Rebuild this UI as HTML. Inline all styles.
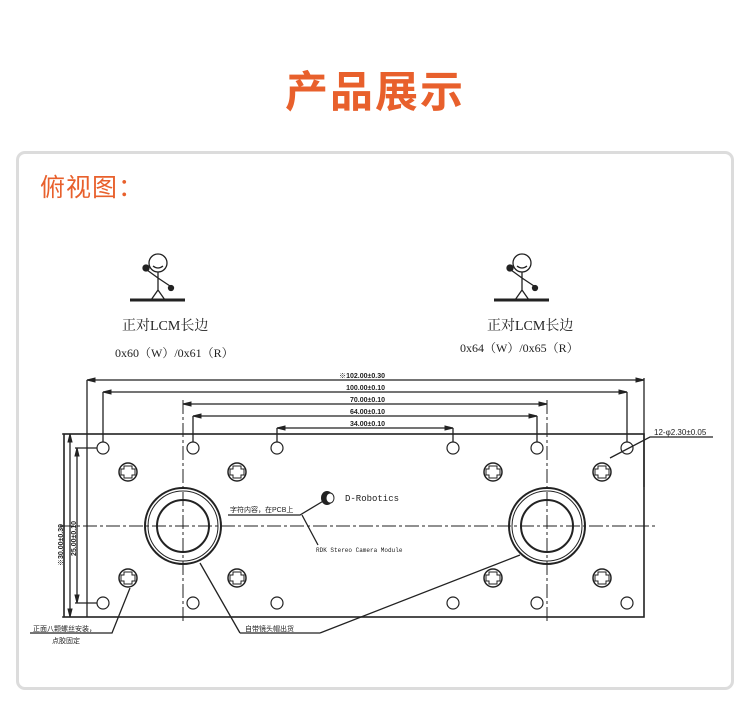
<!DOCTYPE html>
<html><head><meta charset="utf-8"><style>
body{margin:0;width:750px;height:708px;background:#fff;overflow:hidden;position:relative;font-family:"Liberation Sans","Noto Sans CJK SC",sans-serif}
.t{position:absolute;left:0;width:750px;top:58px;text-align:center;font-size:43px;font-weight:bold;color:#e8602c;letter-spacing:2px}
.box{position:absolute;left:16px;top:151px;width:712px;height:533px;border:3px solid #dcdcdc;border-radius:9px}
.s{position:absolute;left:40px;top:168px;font-size:25px;color:#e8602c;letter-spacing:1px}
svg{position:absolute;left:0;top:0}
</style></head><body>
<div class="t">产品展示</div>
<div class="box"></div>
<div class="s">俯视图：</div>
<svg width="750" height="708" font-family="Liberation Sans, Noto Sans CJK SC, sans-serif">
<g stroke="#222" fill="none" stroke-width="1.3">
<g id="fig">
<circle cx="158" cy="263" r="9"/><path d="M153 266 q5 4 10 0"/>
<path d="M158 272 L158 290 M158 290 L151 300 M158 290 L165 300 M158 278 L147 270 M158 278 L170 286"/>
<circle cx="146" cy="268" r="3" fill="#222"/><circle cx="171" cy="288" r="2.5" fill="#222"/>
<path d="M130 300 L185 300" stroke-width="3"/>
</g>
<use href="#fig" transform="translate(364,0)"/>
<rect x="64" y="434" width="580" height="183" stroke-width="1.6"/>
<path d="M87 380 H644 M87 380 V617 M644 378 V487"/>
<path d="M103 392 H627 M103 392 V442 M627 392 V442"/>
<path d="M183 404 H547"/>
<path d="M193 416 H537 M193 416 V442 M537 416 V442"/>
<path d="M277 428 H453 M277 428 V442 M453 428 V442"/>
<path d="M62 434 H64 M70 434 V617 M62 617 H64 M75 448 H97 M77 448 V603 M75 603 H97"/>
<path d="M60 526 H655 M183 400 V622 M547 400 V622" stroke-dasharray="14 3 3 3" stroke-width="1"/>
<g stroke-width="1.2">
<circle cx="103" cy="448" r="6"/><circle cx="193" cy="448" r="6"/><circle cx="277" cy="448" r="6"/><circle cx="453" cy="448" r="6"/><circle cx="537" cy="448" r="6"/><circle cx="627" cy="448" r="6"/>
<circle cx="103" cy="603" r="6"/><circle cx="193" cy="603" r="6"/><circle cx="277" cy="603" r="6"/><circle cx="453" cy="603" r="6"/><circle cx="537" cy="603" r="6"/><circle cx="627" cy="603" r="6"/>
</g>
<g stroke-width="1.5">
<g id="sc"><circle cx="128" cy="472" r="9"/><path d="M124 469 h-3 v6 h3 v3 h8 v-3 h3 v-6 h-3 v-3 h-8 z" stroke-width="1"/></g>
<use href="#sc" x="109"/><use href="#sc" x="365"/><use href="#sc" x="474"/>
<use href="#sc" y="106"/><use href="#sc" x="109" y="106"/><use href="#sc" x="365" y="106"/><use href="#sc" x="474" y="106"/>
</g>
<g stroke-width="2">
<circle cx="183" cy="526" r="38"/><circle cx="183" cy="526" r="35" stroke-width="1"/><circle cx="183" cy="526" r="26"/>
<circle cx="547" cy="526" r="38"/><circle cx="547" cy="526" r="35" stroke-width="1"/><circle cx="547" cy="526" r="26"/>
</g>
<path d="M228 515 H300 L325 500 M302 515 L318 545"/>
<path d="M240 633 H320 M240 633 L200 563 M320 633 L520 555"/>
<path d="M30 633 H112 L130 588"/>
<path d="M713 437 H650 L610 458"/>
</g>
<g stroke="#222" stroke-width="1" fill="#222">
<path d="M87 380 l8 -2 v4z M644 380 l-8 -2 v4z M103 392 l8 -2 v4z M627 392 l-8 -2 v4z M183 404 l8 -2 v4z M547 404 l-8 -2 v4z M193 416 l8 -2 v4z M537 416 l-8 -2 v4z M277 428 l8 -2 v4z M453 428 l-8 -2 v4z"/>
<path d="M70 434 l-2 8 h4z M70 617 l-2 -8 h4z M77 448 l-2 8 h4z M77 603 l-2 -8 h4z"/>
</g>
<ellipse cx="327" cy="498" rx="6" ry="7" fill="#222"/><ellipse cx="330" cy="498" rx="4" ry="5" fill="#fff" stroke="#222"/>
<g fill="#222" font-size="7" font-weight="bold" text-anchor="end">
<text x="385" y="378">※102.00±0.30</text><text x="385" y="390">100.00±0.10</text><text x="385" y="402">70.00±0.10</text><text x="385" y="414">64.00±0.10</text><text x="385" y="426">34.00±0.10</text>
</g>
<g fill="#222" font-size="7" font-weight="bold">
<text transform="translate(63,566) rotate(-90)">※30.00±0.30</text>
<text transform="translate(76,556) rotate(-90)">25.00±0.10</text>
</g>
<g fill="#222">
<text x="122" y="330" font-size="14" font-family="Liberation Serif, Noto Serif CJK SC, serif">正对LCM长边</text>
<text x="115" y="357" font-size="12" font-family="Liberation Serif, Noto Serif CJK SC, serif">0x60（W）/0x61（R）</text>
<text x="487" y="330" font-size="14" font-family="Liberation Serif, Noto Serif CJK SC, serif">正对LCM长边</text>
<text x="460" y="352" font-size="12" font-family="Liberation Serif, Noto Serif CJK SC, serif">0x64（W）/0x65（R）</text>
<text x="345" y="501" font-size="9" font-family="Liberation Mono, monospace">D-Robotics</text>
<text x="230" y="512" font-size="7">字符内容，在PCB上</text>
<text x="316" y="552" font-size="6" font-family="Liberation Mono, monospace">RDK Stereo Camera Module</text>
<text x="245" y="631" font-size="7">自带镜头帽出货</text>
<text x="33" y="631" font-size="7">正面八颗螺丝安装，</text>
<text x="52" y="643" font-size="7">点胶固定</text>
<text x="654" y="435" font-size="8">12-φ2.30±0.05</text>
</g>
</svg>
</body></html>
